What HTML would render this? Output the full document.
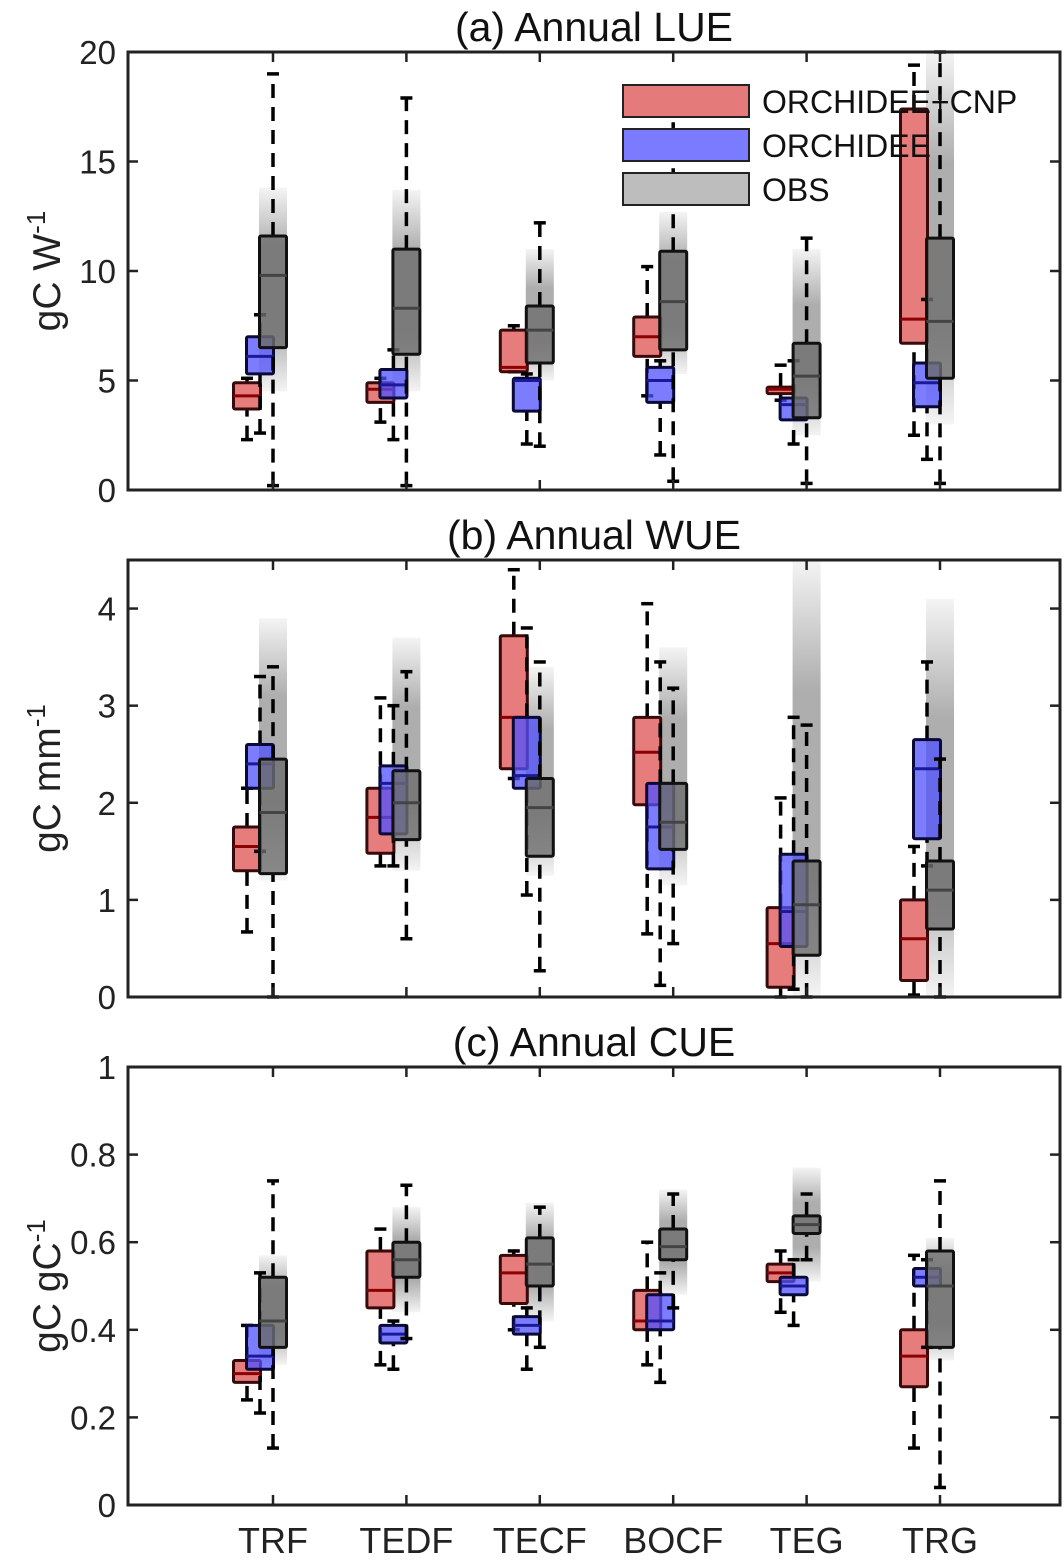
<!DOCTYPE html>
<html><head><meta charset="utf-8"><style>
body{margin:0;background:#fff;}
svg{display:block;font-family:"Liberation Sans",Arial,sans-serif;}
</style></head><body>
<svg id="chart" width="1064" height="1560" viewBox="0 0 1064 1560">
<defs>
<linearGradient id="band" x1="0" y1="0" x2="0" y2="1">
<stop offset="0" stop-color="#777" stop-opacity="0.08"/>
<stop offset="0.3" stop-color="#777" stop-opacity="0.6"/>
<stop offset="0.7" stop-color="#777" stop-opacity="0.6"/>
<stop offset="1" stop-color="#777" stop-opacity="0.08"/>
</linearGradient>
</defs>
<g id="plots"></g>
</svg>
<script>
const categories=["TRF","TEDF","TECF","BOCF","TEG","TRG"];
// each box: [wlo, q1, med, q3, whi]
const lueCNP=[[2.3,3.7,4.3,4.9,5.1],[3.1,4.0,4.6,4.9,5.1],[5.4,5.4,5.6,7.3,7.5],[4.3,6.1,7.0,7.9,10.2],[4.1,4.4,4.6,4.7,5.7],[2.5,6.7,7.8,17.4,19.4]];
const lueORC=[[2.6,5.3,6.1,7.0,8.0],[2.3,4.2,4.8,5.5,6.4],[2.1,3.6,5.0,5.1,5.3],[1.6,4.0,5.0,5.6,5.9],[2.1,3.2,3.9,4.2,5.9],[1.4,3.8,4.9,5.8,8.7]];
const lueOBS=[[0.2,6.5,9.8,11.6,19.0],[0.2,6.2,8.3,11.0,17.9],[2.0,5.8,7.3,8.4,12.2],[0.4,6.4,8.6,10.9,17.5],[0.3,3.3,5.2,6.7,11.5],[0.3,5.1,7.7,11.5,20]];
const lueBand=[[4.5,13.8],[4.5,13.7],[5,11],[5.3,12.7],[2.5,11],[3,20]];
const wueCNP=[[0.67,1.3,1.55,1.75,2.15],[1.35,1.48,1.85,2.15,3.08],[2.25,2.35,2.88,3.72,4.4],[0.65,1.98,2.52,2.88,4.05],[0,0.1,0.55,0.92,2.05],[0.02,0.17,0.6,1.0,1.55]];
const wueORC=[[1.5,2.15,2.4,2.6,3.3],[1.35,1.68,2.2,2.38,3.0],[1.05,2.15,2.28,2.88,3.8],[0.12,1.32,1.75,2.2,3.45],[0.08,0.52,0.88,1.47,2.88],[1.35,1.63,2.35,2.65,3.45]];
const wueOBS=[[0,1.27,1.9,2.45,3.4],[0.6,1.62,2.0,2.33,3.35],[0.27,1.45,1.95,2.25,3.45],[0.55,1.52,1.8,2.2,3.18],[0,0.43,0.95,1.4,2.8],[0,0.7,1.1,1.4,2.45]];
const wueBand=[[1.2,3.9],[1.3,3.7],[1.25,3.4],[1.15,3.6],[0,4.5],[0,4.1]];
const cueCNP=[[0.24,0.28,0.30,0.33,0.41],[0.32,0.45,0.49,0.58,0.63],[0.40,0.46,0.53,0.57,0.58],[0.32,0.40,0.42,0.49,0.60],[0.44,0.51,0.53,0.55,0.58],[0.13,0.27,0.34,0.40,0.57]];
const cueORC=[[0.21,0.31,0.34,0.41,0.53],[0.31,0.37,0.39,0.41,0.42],[0.31,0.39,0.41,0.43,0.45],[0.28,0.40,0.42,0.48,0.53],[0.41,0.48,0.50,0.52,0.56],[0.36,0.50,0.52,0.54,0.56]];
const cueOBS=[[0.13,0.36,0.42,0.52,0.74],[0.38,0.52,0.56,0.60,0.73],[0.36,0.50,0.55,0.61,0.68],[0.45,0.56,0.59,0.63,0.71],[0.56,0.62,0.64,0.66,0.71],[0.04,0.36,0.50,0.58,0.74]];
const cueBand=[[0.32,0.57],[0.44,0.68],[0.42,0.69],[0.48,0.72],[0.51,0.77],[0.33,0.61]];
const luTicks=[0,5,10,15,20], wuTicks=[0,1,2,3,4], cuTicks=[0,0.2,0.4,0.6,0.8,1];
const luTickLabels=["0","5","10","15","20"], wuTickLabels=["0","1","2","3","4"], cuTickLabels=["0","0.2","0.4","0.6","0.8","1"];

const NS="http://www.w3.org/2000/svg";
const root=document.getElementById('plots');
function mk(tag,attrs,parent,text){const e=document.createElementNS(NS,tag);for(const k in attrs)e.setAttribute(k,attrs[k]);if(text!==undefined)e.textContent=text;(parent||root).appendChild(e);return e;}
const L=128,R=1060;
function xCat(i){return 273+i*133.4;}
const off={cnp:-26,orc:-13,obs:0};
const styles={cnp:{fill:"rgba(221,80,80,0.75)",stroke:"#3a0a0a",med:"#8b0000"},orc:{fill:"rgba(80,80,255,0.75)",stroke:"#0a0a3a",med:"#1a1a99"},obs:{fill:"rgba(110,110,110,0.8)",stroke:"#111",med:"#444"}};

function panel(name,top,bot,ymax,ticks,tickLabels,title,ylab,sup,series,band,showX){
  const g=mk('g',{});
  
  
  const y=v=>bot-(v/ymax)*(bot-top);
  const t=mk('text',{x:594,y:top-11,'font-size':41,'text-anchor':'middle',fill:'#111'},g,title);
  
  
  band.forEach((b,i)=>{
    const r=mk('rect',{x:xCat(i)-14,y:y(b[1]),width:28,height:y(b[0])-y(b[1]),fill:'url(#band)'},g);
    
    
  });
  series.forEach(([key,data])=>{
    const st=styles[key];
    data.forEach((d,i)=>{
      const cx=xCat(i)+off[key];
      const bg=mk('g',{},g);
      
      
      mk('line',{x1:cx,x2:cx,y1:y(d[0]),y2:y(d[1]),stroke:'#000','stroke-width':3.5,'stroke-dasharray':'14,9'},bg);
      mk('line',{x1:cx,x2:cx,y1:y(d[3]),y2:y(d[4]),stroke:'#000','stroke-width':3.5,'stroke-dasharray':'14,9'},bg);
      mk('line',{x1:cx-6,x2:cx+6,y1:y(d[0]),y2:y(d[0]),stroke:'#000','stroke-width':3.5},bg);
      mk('line',{x1:cx-6,x2:cx+6,y1:y(d[4]),y2:y(d[4]),stroke:'#000','stroke-width':3.5},bg);
      mk('rect',{x:cx-13.5,y:y(d[3]),width:27,height:Math.max(2,y(d[1])-y(d[3])),fill:st.fill,stroke:st.stroke,'stroke-width':3,rx:1.5},bg);
      mk('line',{x1:cx-13.5,x2:cx+13.5,y1:y(d[2]),y2:y(d[2]),stroke:st.med,'stroke-width':3},bg);
    });
  });
  const ax=mk('rect',{x:L,y:top,width:R-L,height:bot-top,fill:'none',stroke:'#222','stroke-width':3},g);
  
  
  ticks.forEach((v,i)=>{
    mk('line',{x1:L,x2:L+10,y1:y(v),y2:y(v),stroke:'#222','stroke-width':2.5},g);
    mk('line',{x1:R-10,x2:R,y1:y(v),y2:y(v),stroke:'#222','stroke-width':2.5},g);
    const tl=mk('text',{x:L-12,y:y(v)+12,'font-size':33,'text-anchor':'end',fill:'#222'},g,tickLabels[i]);
    
    
  });
  categories.forEach((c,i)=>{
    mk('line',{x1:xCat(i),x2:xCat(i),y1:bot,y2:bot-10,stroke:'#222','stroke-width':2.5},g);
    mk('line',{x1:xCat(i),x2:xCat(i),y1:top,y2:top+10,stroke:'#222','stroke-width':2.5},g);
    if(showX){const xl=mk('text',{x:xCat(i),y:bot+48,'font-size':36,'text-anchor':'middle',fill:'#222'},g,c);
      
      }
  });
  const yl=mk('text',{transform:`translate(60,${(top+bot)/2}) rotate(-90)`,'font-size':39,'text-anchor':'middle',fill:'#222'},g);
  
  
  mk('tspan',{},yl,ylab);
  mk('tspan',{dy:-15,'font-size':26},yl,sup);
}
panel('lue',52,490,20,luTicks,luTickLabels,'(a) Annual LUE','gC W','-1',[['cnp',lueCNP],['orc',lueORC],['obs',lueOBS]],lueBand,false);
panel('wue',560,997,4.5,wuTicks,wuTickLabels,'(b) Annual WUE','gC mm','-1',[['cnp',wueCNP],['orc',wueORC],['obs',wueOBS]],wueBand,false);
panel('cue',1067,1505,1,cuTicks,cuTickLabels,'(c) Annual CUE','gC gC','-1',[['cnp',cueCNP],['orc',cueORC],['obs',cueOBS]],cueBand,true);
const leg=mk('g',{});


[['cnp','ORCHIDEE+CNP',85],['orc','ORCHIDEE',129],['obs','OBS',173]].forEach(([k,lab,yy])=>{
  const e=mk('g',{},leg);
  
  
  const f={cnp:'#e47a7a',orc:'#7b7bff',obs:'#bdbdbd'}[k];
  mk('rect',{x:623,y:yy,width:126,height:32,fill:f,stroke:'#222','stroke-width':2},e);
  mk('text',{x:762,y:yy+28,'font-size':32,fill:'#111'},e,lab);
});
</script>
</body></html>
